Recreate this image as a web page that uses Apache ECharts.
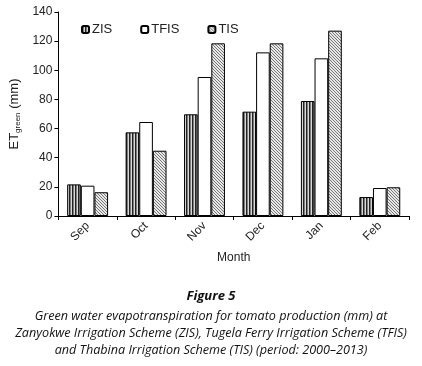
<!DOCTYPE html>
<html>
<head>
<meta charset="utf-8">
<script src="https://cdn.jsdelivr.net/npm/echarts@6/dist/echarts.min.js"></script>
<style>
  html, body { margin: 0; padding: 0; background: #fff; }
  #chart { width: 422px; height: 366px; }
</style>
</head>
<body>
<div id="chart"></div>
<script>
const months = ['Sep', 'Oct', 'Nov', 'Dec', 'Jan', 'Feb']
const zis = [21.7, 57.4, 69.8, 71.6, 78.9, 13]
const tfis = [20.8, 64.5, 95.4, 112.3, 108.2, 19.2]
const tis = [16.3, 44.8, 118.5, 118.5, 127.2, 19.7]
const yTicks = [0, 20, 40, 60, 80, 100, 120, 140]

function makePattern (kind) {
  const c = document.createElement('canvas')
  c.width = 6
  c.height = 6
  const ctx = c.getContext('2d')
  if (kind === 'vert') {
    ctx.fillStyle = '#d8d8d8'
    ctx.fillRect(0, 0, 6, 6)
    ctx.fillStyle = '#222'
    ctx.fillRect(0, 0, 1.5, 6)
    ctx.fillRect(3, 0, 1.5, 6)
  } else {
    ctx.fillStyle = '#e8e8e8'
    ctx.fillRect(0, 0, 6, 6)
    ctx.strokeStyle = '#777'
    ctx.lineWidth = 1
    ctx.beginPath()
    for (let i = -6; i <= 12; i += 3) {
      ctx.moveTo(i, 0)
      ctx.lineTo(i + 6, 6)
    }
    ctx.stroke()
  }
  return c
}

const chart = echarts.init(document.getElementById('chart'))
const font = '"Liberation Sans", Arial, sans-serif'
const capFont = '"Open Sans", sans-serif'

chart.setOption({
  animation: false,
  textStyle: { fontFamily: font },
  grid: { left: 51, right: 13, top: 12, bottom: 150 },
  legend: {
    top: 18,
    left: 76,
    itemWidth: 7,
    itemHeight: 7,
    itemGap: 28,
    textStyle: { fontSize: 13, color: '#222', fontFamily: font, padding: [0, 0, 0, -2] },
    data: ['ZIS', 'TFIS', 'TIS']
  },
  xAxis: {
    type: 'category',
    data: months,
    name: 'Month',
    nameLocation: 'middle',
    nameGap: 36,
    nameTextStyle: { fontSize: 12, color: '#222', fontFamily: font },
    axisLine: { lineStyle: { color: '#000', width: 1 } },
    axisTick: { show: true, length: 4, lineStyle: { color: '#000' } },
    axisLabel: { rotate: 45, fontSize: 12, color: '#222', fontFamily: font, margin: 8 }
  },
  yAxis: {
    type: 'value',
    min: yTicks[0],
    max: yTicks[yTicks.length - 1],
    interval: 20,
    name: '{a|ET}{b|green}{a| (mm)}',
    nameLocation: 'middle',
    nameGap: 33,
    nameTextStyle: {
      rich: {
        a: { fontSize: 13, color: '#222', fontFamily: font },
        b: { fontSize: 8, color: '#222', fontFamily: font, verticalAlign: 'bottom', padding: [6, 0, 0, 0] }
      }
    },
    axisLine: { show: true, lineStyle: { color: '#000', width: 1 } },
    axisTick: { show: true, length: 4, lineStyle: { color: '#000' } },
    axisLabel: { fontSize: 12, color: '#222', fontFamily: font, margin: 6 },
    splitLine: { show: false }
  },
  series: [
    {
      name: 'ZIS',
      type: 'bar',
      data: zis,
      barGap: '0%',
      barCategoryGap: '30%',
      itemStyle: { color: { image: makePattern('vert'), repeat: 'repeat' }, borderColor: '#000', borderWidth: 1 }
    },
    {
      name: 'TFIS',
      type: 'bar',
      data: tfis,
      itemStyle: { color: '#fff', borderColor: '#000', borderWidth: 1 }
    },
    {
      name: 'TIS',
      type: 'bar',
      data: tis,
      itemStyle: { color: { image: makePattern('diag'), repeat: 'repeat' }, borderColor: '#000', borderWidth: 1 }
    }
  ],
  graphic: [
    {
      type: 'text',
      x: 211,
      y: 290,
      style: { text: 'Figure 5', font: 'italic bold 13px ' + capFont, fill: '#111', align: 'center' }
    },
    {
      type: 'text',
      x: 211,
      y: 308,
      style: {
        text: 'Green water evapotranspiration for tomato production (mm) at\nZanyokwe Irrigation Scheme (ZIS), Tugela Ferry Irrigation Scheme (TFIS)\nand Thabina Irrigation Scheme (TIS) (period: 2000–2013)',
        font: 'italic 12.6px ' + capFont,
        fill: '#111',
        align: 'center',
        lineHeight: 17
      }
    }
  ]
})
</script>
</body>
</html>
